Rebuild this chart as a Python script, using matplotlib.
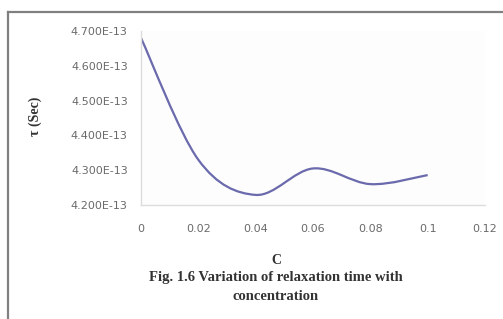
import numpy as np
import matplotlib
matplotlib.use('Agg')
import matplotlib.pyplot as plt
from matplotlib.path import Path
from matplotlib.patches import PathPatch
from matplotlib.ticker import FuncFormatter

# data
conc = [0, 0.02, 0.04, 0.06, 0.08, 0.1]
tau = [4.68e-13, 4.33e-13, 4.229e-13, 4.305e-13, 4.26e-13, 4.286e-13]

xticks = [0, 0.02, 0.04, 0.06, 0.08, 0.1, 0.12]
xtick_labels = ['0', '0.02', '0.04', '0.06', '0.08', '0.1', '0.12']
yticks = [4.2e-13, 4.3e-13, 4.4e-13, 4.5e-13, 4.6e-13, 4.7e-13]

fig = plt.figure(figsize=(5.03, 3.19), dpi=100)
fig.patch.set_facecolor('white')

# outer chart frame (top and left edges visible)
fig.add_artist(plt.Line2D([8/503, 1], [1 - 12/319, 1 - 12/319], color='#808080', lw=1.6))
fig.add_artist(plt.Line2D([8/503, 8/503], [0, 1 - 12/319], color='#808080', lw=1.6))

ax = fig.add_axes([141/503, 1 - 205/319, (485 - 141)/503, (205 - 31)/319])
ax.set_facecolor('#fdfdfd')

# smoothed line like the spreadsheet does it (bezier through the points)
pts = np.column_stack([conc, np.array(tau) * 1e13])
verts = [tuple(pts[0])]
codes = [Path.MOVETO]
n = len(pts)
for i in range(n - 1):
    p0 = pts[i - 1] if i > 0 else pts[i]
    p1 = pts[i]
    p2 = pts[i + 1]
    p3 = pts[i + 2] if i + 2 < n else pts[i + 1]
    c1 = p1 + (p2 - p0) / 6
    c2 = p2 - (p3 - p1) / 6
    verts += [tuple(c1), tuple(c2), tuple(p2)]
    codes += [Path.CURVE4] * 3
verts = [(v[0], v[1] * 1e-13) for v in verts]
ax.add_patch(PathPatch(Path(verts, codes), facecolor='none', edgecolor='#6a6aad', lw=1.6))

ax.set_xlim(0, 0.12)
ax.set_ylim(4.2e-13, 4.7e-13)
ax.set_xticks(xticks)
ax.set_xticklabels(xtick_labels)
ax.set_yticks(yticks)
ax.yaxis.set_major_formatter(FuncFormatter(lambda v, p: '%.3fE-13' % (v * 1e13)))
ax.tick_params(length=0, labelsize=8, colors='#6a6a6a')
ax.tick_params(axis='y', pad=9.5)
ax.tick_params(axis='x', pad=14)
for s in ['top', 'right']:
    ax.spines[s].set_visible(False)
for s in ['left', 'bottom']:
    ax.spines[s].set_color('#dcdcdc')
    ax.spines[s].set_linewidth(1.0)

fig.text(35/503, 1 - 116/319, 'τ (Sec)', rotation=90, ha='center', va='center',
         family='Liberation Serif', fontweight='bold', fontsize=10, color='#333333')
fig.text(276/503, 1 - 260/319, 'C', ha='center', va='center',
         family='Liberation Serif', fontweight='bold', fontsize=10, color='#333333')
fig.text(276/503, 1 - 278/319, 'Fig. 1.6 Variation of relaxation time with', ha='center', va='center',
         family='Liberation Serif', fontweight='bold', fontsize=10.5, color='#333333')
fig.text(276/503, 1 - 297/319, 'concentration', ha='center', va='center',
         family='Liberation Serif', fontweight='bold', fontsize=10.5, color='#333333')

plt.savefig('out.png', dpi=100)
